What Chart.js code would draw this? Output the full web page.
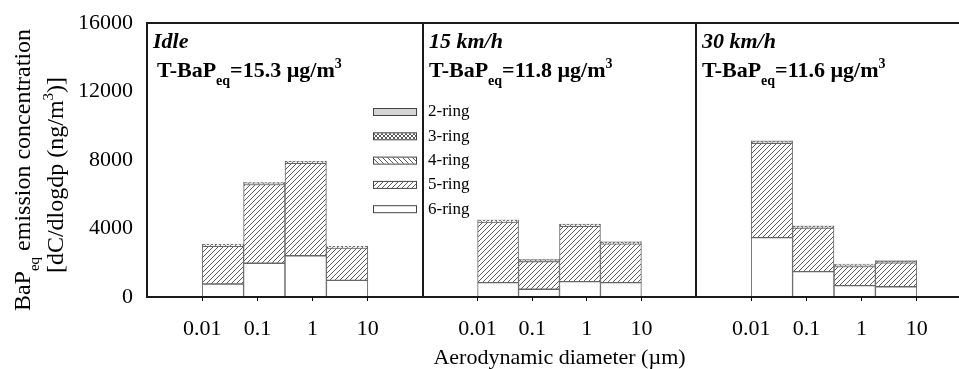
<!DOCTYPE html>
<html>
<head>
<meta charset="utf-8">
<script src="https://cdn.jsdelivr.net/npm/chart.js@4.4.1/dist/chart.umd.min.js"></script>
<style>
  html, body { margin:0; padding:0; background:#fff; overflow:hidden; }
  #wrap { position:relative; width:959px; height:369px; overflow:hidden; }
  canvas { position:absolute; left:0; top:0; }
</style>
</head>
<body>
<div id="wrap">
  <canvas id="g1" width="975" height="369"></canvas>
  <canvas id="g2" width="975" height="369"></canvas>
  <canvas id="g3" width="975" height="369"></canvas>
</div>
<script>
// impactor stage edges (um), the bars span these bins
const binEdges = [0.01, 0.0562, 0.316, 1.78, 10];
const xTicks = [0.01, 0.1, 1, 10];
const yTicks = [0, 4000, 8000, 12000, 16000];
const ringLabels = ["2-ring", "3-ring", "4-ring", "5-ring", "6-ring"];
const panelNames = ["Idle", "15 km/h", "30 km/h"];
const totalBaP = ["15.3", "11.8", "11.6"];

// BaPeq per bin (ng/m3), idle
const idle6 = [760, 1970, 2410, 975];
const idle5 = [2205, 4600, 5400, 1875];
const idle4 = [70, 70, 70, 70];
const idle3 = [40, 40, 40, 40];
const idle2 = [20, 20, 20, 20];
// 15 km/h
const v15_6 = [835, 450, 895, 835];
const v15_5 = [3535, 1620, 3235, 2265];
const v15_4 = [70, 70, 70, 70];
const v15_3 = [40, 40, 40, 40];
const v15_2 = [20, 20, 20, 20];
// 30 km/h
const v30_6 = [3465, 1480, 660, 600];
const v30_5 = [5515, 2540, 1120, 1390];
const v30_4 = [80, 80, 80, 80];
const v30_3 = [40, 40, 40, 40];
const v30_2 = [20, 20, 20, 20];

const panels = [
    [idle6, idle5, idle4, idle3, idle2],
    [v15_6, v15_5, v15_4, v15_3, v15_2],
    [v30_6, v30_5, v30_4, v30_3, v30_2]
];

const canvasW = 975;
const panelLeft = [147, 423, 696];
const panelRight = [423, 696, 972];
const serif = '"Liberation Serif", "Times New Roman", serif';

Chart.defaults.font.family = serif;
Chart.defaults.color = "#000";

// hatch fills
function makePattern(kind) {
    const s = kind === "cross" ? 4 : 5;
    const c = document.createElement("canvas");
    c.width = s; c.height = s;
    const g = c.getContext("2d");
    g.fillStyle = kind === "flat" ? "#d4d4d4" : "#fff";
    g.fillRect(0, 0, s, s);
    g.strokeStyle = "#4a4a4a";
    g.lineWidth = 0.9;
    g.beginPath();
    if (kind === "fwd" || kind === "cross") {
        g.moveTo(-1, s + 1); g.lineTo(s + 1, -1);
        g.moveTo(-1, 1); g.lineTo(1, -1);
        g.moveTo(s - 1, s + 1); g.lineTo(s + 1, s - 1);
    }
    if (kind === "back" || kind === "cross") {
        g.moveTo(-1, -1); g.lineTo(s + 1, s + 1);
        g.moveTo(s - 1, -1); g.lineTo(s + 1, 1);
        g.moveTo(-1, s - 1); g.lineTo(1, s + 1);
    }
    g.stroke();
    return g.createPattern(c, "repeat");
}
// order: 6-ring (bottom) ... 2-ring (top)
const fills = ["#ffffff", makePattern("fwd"), makePattern("back"), makePattern("cross"), makePattern("flat")];
const stackLabels = ["6-ring", "5-ring", "4-ring", "3-ring", "2-ring"];

const centers = [];
for (let i = 0; i < binEdges.length - 1; i++) {
    centers.push(Math.sqrt(binEdges[i] * binEdges[i + 1]));
}

// text with sub/superscripts
function richWidth(ctx, parts, size, style) {
    let w = 0;
    parts.forEach(([t, k]) => {
        const s = k === "n" ? size : Math.round(size * 0.62);
        ctx.font = style + " " + s + "px " + serif;
        w += ctx.measureText(t).width;
    });
    return w;
}
function richText(ctx, x, y, parts, size, style) {
    parts.forEach(([t, k]) => {
        const s = k === "n" ? size : Math.round(size * 0.62);
        const dy = k === "sub" ? size * 0.38 : (k === "sup" ? -size * 0.42 : 0);
        ctx.font = style + " " + s + "px " + serif;
        ctx.fillText(t, x, y + dy);
        x += ctx.measureText(t).width;
    });
}

const decor = {
    id: "decor",
    afterDraw(chart, args, opts) {
        const ctx = chart.ctx;
        const a = chart.chartArea;
        ctx.save();
        ctx.fillStyle = "#000";
        ctx.textBaseline = "alphabetic";
        ctx.textAlign = "left";
        // panel frame
        ctx.strokeStyle = "#1a1a1a";
        ctx.lineWidth = 2;
        ctx.strokeRect(a.left, a.top, a.right - a.left, a.bottom - a.top);

        const p = opts.panel;
        richText(ctx, a.left + 6, a.top + 25, [[panelNames[p], "n"]], 22, "italic bold");
        richText(ctx, a.left + opts.textX, a.top + 54,
            [["T-BaP", "n"], ["eq", "sub"], ["=" + totalBaP[p] + " \u00b5g/m", "n"], ["3", "sup"]], 22, "bold");

        if (opts.legend) {
            const swL = a.right - 50, swW = 43;
            ringLabels.forEach((lab, k) => {
                const y = a.top + 89 + k * 24.3;
                ctx.fillStyle = fills[4 - k];
                ctx.fillRect(swL, y - 3, swW, 6);
                ctx.strokeStyle = "#444";
                ctx.lineWidth = 1;
                ctx.strokeRect(swL + 0.5, y - 3.5, swW, 7);
                ctx.fillStyle = "#000";
                ctx.font = "17px " + serif;
                ctx.textBaseline = "middle";
                ctx.fillText(lab, a.right + 5, y);
            });
            ctx.textBaseline = "alphabetic";
        }

        if (opts.yTitle) {
            const l1 = [["BaP", "n"], ["eq", "sub"], [" emission concentration", "n"]];
            const l2 = [["[dC/dlogdp (ng/m", "n"], ["3", "sup"], [")]", "n"]];
            [[l1, 30, 170], [l2, 63, 175]].forEach(([parts, bx, cy]) => {
                const w = richWidth(ctx, parts, 24, "normal");
                ctx.save();
                ctx.translate(bx, cy);
                ctx.rotate(-Math.PI / 2);
                richText(ctx, -w / 2, 0, parts, 24, "normal");
                ctx.restore();
            });
        }
        ctx.restore();
    }
};

function makeChart(id, p) {
    const datasets = panels[p].map((vals, k) => ({
        label: stackLabels[k],
        data: centers.map((c, j) => ({ x: c, y: vals[j] })),
        backgroundColor: fills[k],
        borderColor: "#666",
        borderWidth: 1,
        borderSkipped: false,
        barPercentage: 1,
        categoryPercentage: 1
    }));
    const yAxis = {
        display: p === 0,
        min: 0,
        max: 16000,
        stacked: true,
        afterBuildTicks: (s) => { s.ticks = yTicks.map(v => ({ value: v })); },
        grid: { display: false },
        border: { display: false },
        ticks: { font: { size: 22 }, color: "#000", padding: 6, callback: (v) => String(v) }
    };
    if (p === 0) {
        yAxis.afterFit = (s) => { s.width = 147; };
    }
    const config = {
        type: "bar",
        data: { datasets: datasets },
        options: {
            responsive: false,
            animation: false,
            layout: { padding: { left: p === 0 ? 0 : panelLeft[p], right: canvasW - panelRight[p], top: 23, bottom: 0 } },
            plugins: {
                legend: { display: false },
                tooltip: { enabled: false },
                decor: { panel: p, legend: p === 0, yTitle: p === 0, textX: p === 0 ? 10 : 6 }
            },
            scales: {
                x: {
                    type: "logarithmic",
                    min: 0.001,
                    max: 100,
                    stacked: true,
                    offset: false,
                    afterBuildTicks: (s) => { s.ticks = xTicks.map(v => ({ value: v })); },
                    afterFit: (s) => { s.height = 72; },
                    grid: { offset: false, drawOnChartArea: false, tickLength: 4, color: "#000" },
                    border: { display: false },
                    ticks: {
                        callback: (v) => String(v),
                        font: { size: 22 },
                        color: "#000",
                        padding: 15,
                        maxRotation: 0,
                        autoSkip: false
                    },
                    title: {
                        display: p === 1,
                        text: "Aerodynamic diameter (\u00b5m)",
                        font: { size: 22 },
                        color: "#000",
                        padding: { top: 0, bottom: -2 }
                    }
                },
                y: yAxis
            }
        },
        plugins: [decor]
    };
    return new Chart(document.getElementById(id), config);
}

makeChart("g1", 0);
makeChart("g2", 1);
makeChart("g3", 2);
</script>
</body>
</html>
